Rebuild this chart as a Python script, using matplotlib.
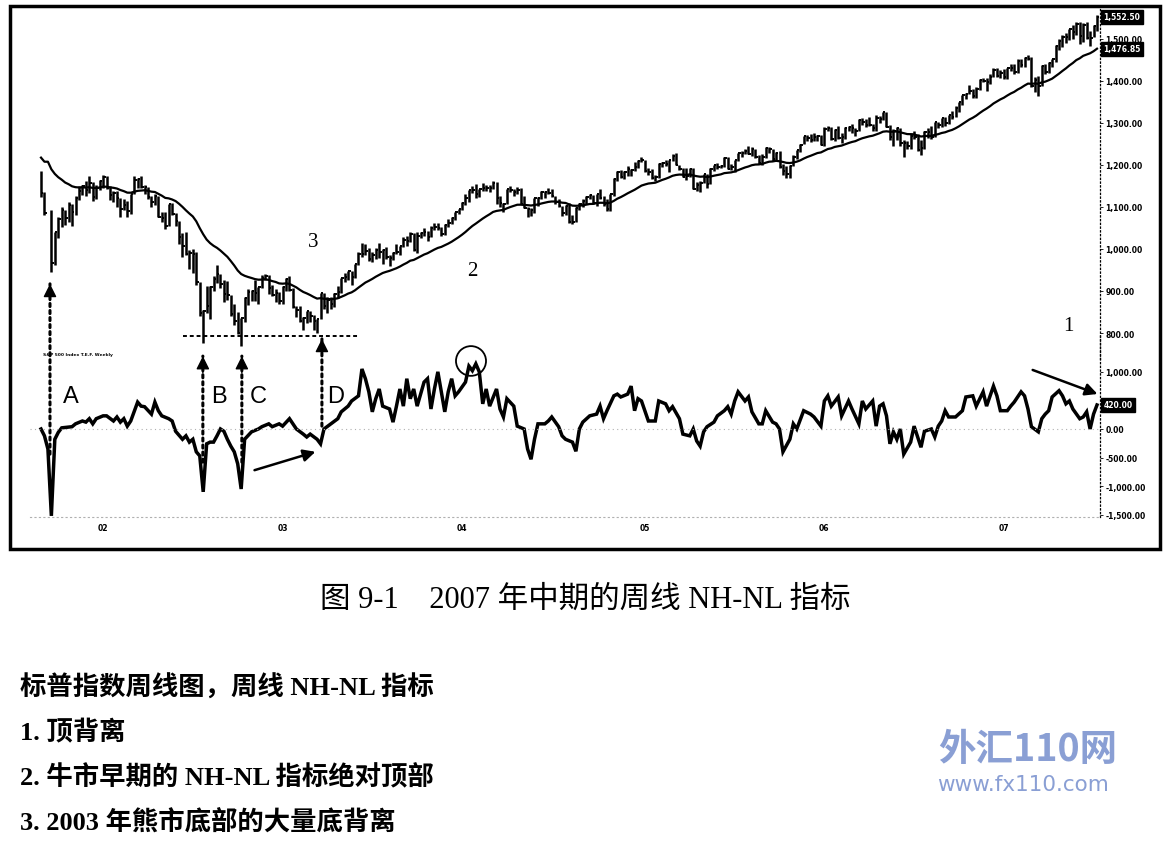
import numpy as np
import pandas as pd
import matplotlib
matplotlib.use("Agg")
import matplotlib.pyplot as plt
from matplotlib.patches import Ellipse, Rectangle
from matplotlib.transforms import blended_transform_factory

W, H = 1175, 845

# S&P 500 weekly bars, week ending 2001-08-31 .. 2007-07-13 (2001-09-14: market closed)
week_end = pd.date_range("2001-08-31", periods=307, freq="W-FRI")

price_high = [
    1186, 1135, np.nan, 1092, 1041, 1075, 1099, 1093, 1111, 1106, 1125, 1149, 1152, 1163, 1173, 1160, 1152, 1164,
    1176, 1174, 1150, 1139, 1138, 1122, 1120, 1115, 1132, 1173, 1168, 1173, 1152, 1148, 1125, 1131, 1126, 1088,
    1088, 1107, 1109, 1085, 1067, 1039, 1040, 997, 1000, 993, 922, 855, 911, 911, 935, 963, 941, 925,
    924, 891, 870, 850, 836, 886, 904, 903, 925, 910, 938, 941, 937, 915, 904, 898,
    911, 932, 935, 907, 865, 864, 837, 852, 852, 842, 834, 896, 895, 885, 885, 895, 912, 930,
    942, 948, 947, 965, 992, 1015, 1012, 1003, 994, 1003, 1015, 1000, 1004, 985, 992, 1011, 1008, 1029,
    1032, 1040, 1039, 1040, 1040, 1049, 1044, 1054, 1062, 1063, 1052, 1060, 1071, 1075, 1089, 1096,
    1112, 1131, 1140, 1150, 1155, 1144, 1158, 1152, 1152, 1163, 1159, 1125, 1110, 1144, 1151, 1142, 1147, 1146,
    1127, 1099, 1098, 1122, 1123, 1137, 1137, 1146, 1143, 1126, 1119, 1102, 1104, 1109, 1080, 1099, 1109, 1118,
    1125, 1130, 1129, 1132, 1142, 1127, 1118, 1131, 1170, 1185, 1188, 1186, 1197, 1191, 1206, 1211, 1218,
    1212, 1193, 1190, 1175, 1205, 1208, 1212, 1212, 1225, 1229, 1201, 1193, 1192, 1192, 1192, 1159, 1162, 1179,
    1179, 1192, 1199, 1205, 1201, 1219, 1219, 1203, 1213, 1229, 1234, 1238, 1245, 1242, 1238, 1224, 1225, 1242,
    1244, 1238, 1232, 1234, 1202, 1197, 1200, 1224, 1235, 1249, 1269, 1272, 1273, 1275, 1272, 1271,
    1290, 1294, 1290, 1286, 1294, 1275, 1290, 1294, 1297, 1289, 1310, 1311, 1310, 1315, 1297, 1318, 1316, 1327,
    1326, 1295, 1285, 1290, 1288, 1259, 1258, 1276, 1280, 1273, 1260, 1280, 1287, 1292, 1303, 1303, 1312, 1315,
    1320, 1329, 1340, 1350, 1366, 1372, 1390, 1382, 1385, 1404, 1407, 1407, 1416, 1431, 1430, 1427,
    1429, 1431, 1441, 1441, 1452, 1453, 1457, 1461, 1457, 1410, 1411, 1437, 1441, 1445, 1453, 1485, 1499, 1510,
    1514, 1523, 1533, 1540, 1540, 1538, 1540, 1518, 1534, 1556,
]
price_low = [
    1124, 1081, np.nan, 945, 962, 1026, 1052, 1057, 1064, 1054, 1082, 1117, 1128, 1126, 1133, 1115, 1120, 1140,
    1145, 1144, 1116, 1113, 1101, 1075, 1094, 1075, 1084, 1130, 1145, 1146, 1131, 1119, 1100, 1105, 1075, 1064,
    1048, 1054, 1081, 1055, 1012, 982, 985, 953, 942, 915, 841, 776, 848, 834, 900, 919, 908, 874,
    878, 840, 818, 798, 769, 826, 866, 877, 876, 869, 906, 925, 893, 888, 873, 870,
    869, 899, 899, 860, 837, 827, 806, 825, 827, 807, 801, 833, 856, 848, 858, 863, 884, 895,
    921, 926, 915, 930, 962, 980, 986, 972, 970, 976, 978, 965, 977, 960, 973, 989, 985, 1005,
    1007, 1016, 995, 990, 1026, 1030, 1018, 1029, 1045, 1045, 1031, 1034, 1053, 1060, 1068, 1083,
    1094, 1105, 1113, 1134, 1122, 1124, 1138, 1138, 1135, 1144, 1107, 1100, 1088, 1108, 1135, 1125, 1130, 1107,
    1097, 1076, 1079, 1086, 1103, 1118, 1122, 1130, 1123, 1108, 1100, 1078, 1080, 1063, 1060, 1065, 1093, 1101,
    1108, 1119, 1108, 1103, 1120, 1102, 1090, 1090, 1127, 1161, 1168, 1166, 1173, 1173, 1185, 1192, 1208,
    1183, 1175, 1167, 1163, 1170, 1196, 1198, 1184, 1209, 1199, 1187, 1171, 1165, 1172, 1142, 1137, 1136, 1157,
    1146, 1154, 1185, 1190, 1192, 1196, 1191, 1187, 1183, 1210, 1219, 1225, 1225, 1222, 1217, 1203, 1201, 1217,
    1229, 1210, 1213, 1192, 1176, 1170, 1168, 1198, 1214, 1231, 1249, 1256, 1255, 1256, 1257, 1248,
    1245, 1281, 1260, 1258, 1261, 1253, 1263, 1281, 1275, 1269, 1281, 1296, 1291, 1294, 1280, 1282, 1301, 1307,
    1291, 1259, 1245, 1260, 1245, 1219, 1238, 1237, 1262, 1233, 1224, 1238, 1265, 1262, 1267, 1288, 1290, 1292,
    1298, 1310, 1314, 1327, 1344, 1358, 1368, 1360, 1360, 1379, 1398, 1377, 1394, 1409, 1410, 1406,
    1404, 1405, 1424, 1416, 1420, 1433, 1434, 1450, 1386, 1374, 1364, 1387, 1416, 1420, 1433, 1446, 1474, 1481,
    1491, 1497, 1500, 1510, 1487, 1492, 1500, 1484, 1504, 1518,
]
price_close = [
    1133.6, 1085.8, np.nan, 965.8, 1040.9, 1071.4, 1091.7, 1073.5, 1104.6, 1087.2, 1120.3, 1138.7, 1150.3, 1139.5,
    1158.3, 1123.1, 1144.9, 1161.0,
    1172.5, 1145.6, 1127.6, 1133.3, 1122.2, 1096.2, 1104.2, 1089.8, 1131.8, 1164.3, 1166.2, 1148.7, 1147.4, 1122.7,
    1111.0, 1125.2, 1076.3, 1073.4, 1055.0, 1106.6, 1083.8, 1067.1, 1027.5, 1007.3, 989.1, 989.8, 989.0, 921.4,
    847.8, 852.8, 864.2, 908.6, 928.8, 940.9, 916.1, 893.9, 889.8, 845.4, 827.4, 800.6, 835.3, 884.4, 897.7, 901.0,
    894.7, 909.8, 930.6, 936.3, 906.6, 889.5, 895.8, 875.4,
    908.6, 927.6, 901.8, 861.4, 855.7, 829.7, 834.9, 851.2, 841.2, 828.9, 833.3, 895.8, 863.5, 878.9, 868.3, 893.6,
    898.8, 930.1, 933.4, 946.7, 933.2, 963.6, 987.8, 988.6, 995.7, 976.2, 985.7, 998.1, 993.3, 998.7, 980.2, 977.6,
    990.7, 993.1, 1008.0, 1021.4, 1018.6, 1036.3, 996.9, 1029.9, 1038.1, 1039.3, 1028.9, 1050.7, 1053.2, 1050.4,
    1035.3, 1058.2, 1061.5, 1074.1, 1088.7, 1095.9,
    1108.5, 1121.9, 1139.8, 1141.6, 1131.1, 1142.8, 1145.8, 1144.1, 1144.9, 1156.9, 1120.6, 1109.8, 1108.1, 1141.8,
    1139.3, 1134.6, 1140.6, 1107.3, 1098.7, 1095.7, 1093.6, 1120.7, 1122.5, 1136.5, 1135.0, 1134.4, 1125.4, 1112.8,
    1101.4, 1086.2, 1101.7, 1064.0, 1064.8, 1098.4, 1107.8, 1113.6, 1123.9, 1128.6, 1110.1, 1131.5, 1122.1, 1108.2,
    1095.7, 1130.2, 1166.2, 1184.2, 1170.3, 1182.7, 1191.2, 1188.0, 1194.2, 1210.1, 1211.9,
    1186.2, 1184.5, 1167.9, 1171.4, 1203.0, 1205.3, 1201.6, 1211.4, 1222.1, 1200.1, 1190.2, 1171.4, 1172.9, 1191.1,
    1142.6, 1152.1, 1156.9, 1178.8, 1154.1, 1189.3, 1198.8, 1196.0, 1198.1, 1217.0, 1191.6, 1194.4, 1211.9, 1227.9,
    1229.4, 1234.2, 1226.4, 1237.8, 1219.7, 1205.1, 1218.0, 1241.5, 1237.9, 1215.3, 1228.8, 1195.9, 1186.6, 1179.6,
    1198.4, 1220.1, 1234.7, 1248.3, 1268.3, 1265.1, 1259.4, 1267.3, 1268.7, 1248.3,
    1285.5, 1287.6, 1261.5, 1283.7, 1264.0, 1267.0, 1287.2, 1289.4, 1287.2, 1281.4, 1307.3, 1303.0, 1294.8, 1295.5,
    1289.1, 1311.3, 1310.6, 1325.8, 1291.2, 1267.0, 1280.2, 1288.2, 1252.3, 1251.5, 1244.5, 1270.2, 1265.5, 1236.2,
    1240.3, 1278.6, 1279.4, 1266.7, 1302.3, 1295.1, 1311.0, 1298.9, 1319.7, 1314.8, 1335.9, 1349.6, 1365.6, 1368.6,
    1377.3, 1364.3, 1380.9, 1401.2, 1401.0, 1396.7, 1409.8, 1427.1, 1410.8, 1418.3,
    1409.7, 1430.7, 1430.5, 1422.2, 1448.4, 1438.1, 1455.5, 1451.2, 1387.2, 1402.8, 1387.0, 1436.1, 1420.9, 1443.8,
    1452.9, 1484.4, 1494.1, 1505.6, 1505.9, 1522.8, 1515.7, 1536.3, 1507.7, 1532.9, 1502.6, 1503.4, 1530.4, 1552.5,
]
# closes of Jan-Aug 2001, only used to start the 26-week EMA
warmup_close = [
    1298.4, 1318.3, 1342.5, 1355.0, 1349.5, 1314.8, 1301.5, 1245.9, 1234.2, 1233.4, 1150.5, 1139.8, 1160.3, 1128.4,
    1183.5, 1243.0, 1253.1, 1266.6, 1245.7, 1292.0, 1277.9, 1260.7, 1265.0, 1214.4, 1225.4, 1224.4, 1190.6, 1215.7,
    1210.9, 1205.8, 1214.4, 1190.2, 1162.0, 1184.9,
]

# weekly NH-NL (week number from 2001-08-31)
nhnl_week = [
    0, 1, 2, 3, 4, 5, 6, 9, 10, 12, 13, 14, 15, 16, 18, 19, 21, 22, 23, 24, 25, 26, 28, 29, 30, 32, 33, 34, 35,
    37, 38, 39, 41, 42, 43, 44, 45, 46, 47, 48, 49, 50, 51, 52, 53, 54, 55, 56, 57, 58, 59, 61, 63, 64, 66, 67,
    69, 70, 72, 73, 74, 76, 77, 78, 80, 81, 82, 84, 86, 87, 89, 90, 92, 93, 94, 95, 96, 97, 98, 99, 101, 102,
    103, 104, 105, 106, 107, 108, 109, 111, 112, 113, 114, 115, 117, 118, 119, 120, 121, 123, 124, 125, 126,
    127, 128, 129, 130, 132, 133, 134, 135, 137, 138, 140, 141, 142, 143, 144, 146, 147, 148, 150, 151, 152,
    154, 155, 156, 157, 159, 161, 162, 163, 164, 166, 167, 168, 170, 171, 172, 173, 174, 176, 178, 179, 181,
    182, 183, 185, 186, 188, 189, 190, 191, 192, 193, 195, 196, 198, 199, 200, 201, 202, 204, 205, 206, 208,
    209, 210, 212, 213, 214, 215, 217, 218, 219, 221, 223, 224, 226, 227, 228, 229, 231, 232, 234, 235, 237,
    238, 239, 241, 242, 243, 244, 245, 246, 247, 248, 249, 250, 252, 253, 255, 256, 258, 259, 260, 261, 262,
    263, 265, 267, 268, 270, 271, 273, 274, 276, 277, 278, 280, 281, 282, 284, 285, 286, 287, 289, 290, 291,
    292, 293, 295, 296, 297, 298, 299, 301, 302, 303, 304, 305, 306,
]
nhnl_value = [
    0, -120, -350, -1520, -180, -60, 20, 40, 90, 140, 120, 180, 90, 180, 230, 230, 140, 210, 120, 180, 50, 140,
    470, 400, 390, 260, 470, 320, 230, 180, 140, -40, -180, -120, -230, -180, -400, -470, -1100, -260, -230,
    -230, -120, 0, -40, -180, -300, -400, -610, -1050, -180, -50, 0, 40, 90, 40, 90, 50, 180, 90, 0, -90, -140,
    -90, -180, -260, 0, 90, 180, 300, 400, 490, 580, 1050, 880, 650, 300, 530, 700, 400, 350, 120,
    400, 700, 400, 880, 530, 700, 400, 820, 880, 350, 700, 1000, 300, 650, 880, 580, 650, 820, 1100, 1020, 1140,
    1000, 440, 700, 400, 700, 350, 210, 530, 400, 50, 0, -350, -530, -180, 90, 90, 140, 210, 40, -120, -180,
    -230, -390, 0, 120, 230, 260, 400, 180, 320, 580, 610, 560, 610, 750, 320, 530, 490, 140, 140, 490, 440,
    320, 390, 180, -90, -120, 0, -210, -300, -50, 40, 120, 230, 320, 390, 260, 490, 650, 490, 560, 300, 90,
    90, 320, 120, 90, 0, -400, -180, 90, 0, 320, 260, 210, 50, 490, 580, 400, 560, 230, 490, 350, 90,
    490, 350, 490, 50, 400, 440, 230, -260, -50, -180, 0, -440, -230, 50, -320, -40, 0, -140, 50, 140, 320,
    210, 210, 320, 560, 580, 400, 650, 400, 750, 580, 320, 320, 400, 470, 650, 580, 350, 40, -50, 180, 260,
    320, 560, 670, 580, 440, 490, 350, 180, 210, 300, 0, 260, 420,
]

year_labels = ["02", "03", "04", "05", "06", "07"]
price_ticks = [800, 900, 1000, 1100, 1200, 1300, 1400, 1500]
nhnl_ticks = [1000, 0, -500, -1000, -1500]

# ---------------------------------------------------------------------------
idx = np.arange(len(week_end))
close_all = pd.Series(warmup_close + price_close)
ema26 = close_all.ewm(span=26, adjust=False, ignore_na=True).mean().to_numpy()[len(warmup_close):]

plt.rcParams["font.family"] = ["DejaVu Sans"]
fig = plt.figure(figsize=(W / 100, H / 100), dpi=100)


def px_rect(left, top, right, bottom):
    return [left / W, 1 - bottom / H, (right - left) / W, (bottom - top) / H]


ax = fig.add_axes(px_rect(30, 10, 1100, 360))
ax2 = fig.add_axes(px_rect(30, 335, 1100, 518))
xlim = (-3.19, 306.87)
for a in (ax, ax2):
    a.set_xlim(*xlim)
    a.patch.set_visible(False)
    for s in ("top", "left", "bottom"):
        a.spines[s].set_visible(False)
    a.spines["right"].set_linestyle((0, (1, 2)))
    a.spines["right"].set_linewidth(0.9)
    a.yaxis.tick_right()
    a.tick_params(axis="y", labelsize=5.5, length=2, width=0.6, pad=2)

ax.set_ylim(738.1, 1571.4)
ax2.set_ylim(-1540, 1662)

# price bars + 26-week EMA
ax.vlines(idx, price_low, price_high, color="black", lw=1.8)
ax.hlines(price_close, idx, idx + 0.7, color="black", lw=1.4)
ax.plot(idx, ema26, color="black", lw=1.6)
ax.set_xticks([])
ax.set_yticks(price_ticks)
ax.set_yticklabels([f"{v:,.2f}" for v in price_ticks], fontweight="bold")

# NH-NL line
ax2.plot(nhnl_week, nhnl_value, color="black", lw=2.5, solid_joinstyle="miter")
ax2.axhline(0, color="#b0b0b0", lw=0.8, ls=(0, (1, 3)))
ax2.spines["bottom"].set_visible(True)
ax2.spines["bottom"].set_color("#b0b0b0")
ax2.spines["bottom"].set_linestyle((0, (1, 3)))
ax2.set_yticks(nhnl_ticks)
ax2.set_yticklabels([f"{v:,.2f}" for v in nhnl_ticks], fontweight="bold")
year_idx = [int(np.argmax(week_end.year == 2002 + k)) for k in range(len(year_labels))]
ax2.set_xticks(year_idx)
ax2.set_xticklabels(year_labels, fontsize=5.5, fontweight="bold")
ax2.tick_params(axis="x", length=0, pad=4)

# current-value boxes
box = dict(boxstyle="square,pad=0.35", fc="black", ec="black")
for a, val in ((ax, price_close[-1]), (ax, ema26[-1]), (ax2, nhnl_value[-1])):
    a.text(1.003, val, f"{val:,.2f}", transform=blended_transform_factory(a.transAxes, a.transData),
           ha="left", va="center", fontsize=5.5, color="white", fontweight="bold", bbox=box)

# dotted arrows from the NH-NL lows up to the price lows
shaft = dict(arrowstyle="-", color="black", lw=2.2, ls=(0, (1, 1.3)), shrinkA=0, shrinkB=0)
head = dict(arrowstyle="-|>", color="black", lw=1.0, mutation_scale=20, shrinkA=0, shrinkB=0)
for w, v0, p1 in ((2.6, -440, 917), (46.9, -580, 745), (58.2, -580, 745), (81.4, 50, 786)):
    ax.annotate("", xy=(w, p1), xycoords=ax.transData, xytext=(w, v0), textcoords=ax2.transData,
                arrowprops=shaft, annotation_clip=False)
    ax.annotate("", xy=(w, p1), xytext=(0, -12), textcoords="offset points",
                arrowprops=head, annotation_clip=False)
ax.hlines(793, 41.1, 91.9, color="black", lw=1.4, ls=(0, (2, 1.5)))
ax.text(0.5, 750, "S&P 500 Index T.E.F. Weekly", fontsize=3.2, fontweight="bold", va="center")

for w, v, s in ((8.7, 578, "A"), (51.6, 578, "B"), (62.9, 578, "C"), (85.5, 578, "D")):
    ax2.text(w, v, s, fontsize=17, family="Liberation Sans", ha="center", va="center")
for w, p, s in ((78.8, 1017, "3"), (124.9, 948, "2"), (297.6, 817, "1")):
    ax.text(w, p, s, fontsize=15, family="Liberation Serif", ha="center", va="center")

ax2.add_patch(Ellipse((124.6, 1190), width=8.7, height=520, fill=False, ec="black", lw=1.3))
solid_arrow = dict(arrowstyle="-|>", color="black", lw=1.8, mutation_scale=18)
ax2.annotate("", xy=(80.3, -385), xytext=(61.1, -735), arrowprops=solid_arrow)
ax2.annotate("", xy=(306.9, 595), xytext=(286.6, 1050), arrowprops=solid_arrow, annotation_clip=False)

fig.add_artist(Rectangle((10 / W, 1 - 550 / H), 1150 / W, 543 / H, transform=fig.transFigure,
                         fill=False, ec="black", lw=2.5))

# caption and notes
cjk = ["Liberation Serif", "Noto Sans CJK SC"]
fig.text(585 / W, 1 - 600 / H, "图 9-1    2007 年中期的周线 NH-NL 指标", family=cjk, fontsize=22,
         ha="center", va="center")
notes = ["标普指数周线图，周线 NH-NL 指标", "1. 顶背离", "2. 牛市早期的 NH-NL 指标绝对顶部",
         "3. 2003 年熊市底部的大量底背离"]
for k, line in enumerate(notes):
    fig.text(20 / W, 1 - (688 + 45 * k) / H, line, family=cjk, fontsize=19, fontweight="bold",
             ha="left", va="center")

# watermark
fig.text(1028 / W, 1 - 750 / H, "外汇110网", family=["Noto Sans CJK SC"], fontsize=27, fontweight="bold",
         color="#8a9fd4", ha="center", va="center")
fig.text(1023 / W, 1 - 785 / H, "www.fx110.com", family=["DejaVu Sans"], fontsize=15.5, color="#8a9fd4",
         ha="center", va="center")

fig.savefig("out.png", dpi=100)
